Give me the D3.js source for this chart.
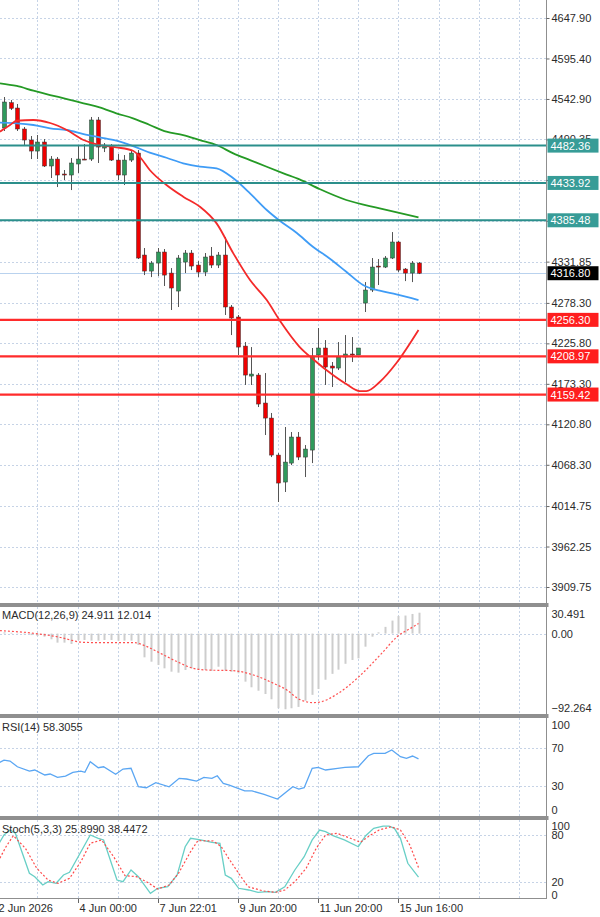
<!DOCTYPE html>
<html>
<head>
<meta charset="utf-8">
<script src="https://cdn.jsdelivr.net/npm/d3@7"></script>
<style>
 body { margin: 0; background: #fff; }
 svg { display: block; }
 text { font-family: "Liberation Sans", Arial, sans-serif; font-size: 11px; fill: #2b2b2b; }
</style>
</head>
<body>
<svg></svg>
<script>
// свечи H4, индекс 0..62
const opens = [4505.2,4538.0,4531.1,4503.9,4489.6,4475.3,4487.0,4455.9,4464.9,4445.5,4444.2,4458.5,4464.9,4464.9,4515.6,4479.2,4481.8,4463.6,4444.2,4463.6,
 4472.7,4340.4,4319.6,4330.0,4344.3,4317.0,4293.7,4331.3,4343.0,4327.4,4318.3,4339.1,4327.4,4340.4,4273.0,4260.0,4222.3,4183.4,4184.7,4148.4,
 4128.9,4080.9,4045.9,4070.5,4104.3,4078.3,4087.4,4210.7,4219.8,4196.4,4193.8,4208.1,4212.0,4210.7,4278.1,4295.0,4326.1,4324.8,4336.5,4357.3,
 4322.2,4317.0,4330.0];
const highs = [4545.4,4541.5,4536.3,4506.5,4494.8,4496.1,4490.9,4468.8,4467.5,4450.7,4466.2,4483.1,4484.4,4519.5,4519.5,4485.7,4484.4,4471.4,4470.1,4476.6,
 4476.6,4349.5,4332.6,4349.5,4348.2,4323.5,4340.4,4346.9,4346.9,4332.6,4343.0,4350.8,4344.3,4363.8,4275.6,4262.6,4227.5,4221.0,4187.3,4187.3,
 4135.5,4083.5,4117.3,4110.8,4110.8,4093.9,4219.8,4245.7,4230.1,4201.6,4227.5,4236.6,4234.0,4219.8,4305.3,4336.5,4335.2,4339.1,4370.2,4358.6,
 4323.5,4332.6,4331.3];
const lows = [4501.3,4528.5,4501.3,4481.8,4464.9,4464.9,4454.6,4440.3,4428.6,4437.7,4424.7,4446.8,4463.6,4462.4,4459.8,4474.0,4462.4,4437.7,4431.2,4461.1,
 4335.2,4314.4,4311.8,4313.1,4300.2,4269.1,4273.0,4317.0,4320.9,4311.8,4313.1,4323.5,4323.5,4262.6,4236.6,4210.7,4171.8,4171.8,4143.2,4106.9,
 4078.3,4020.0,4033.0,4067.9,4074.4,4052.4,4070.5,4204.2,4171.8,4169.2,4191.2,4175.7,4201.6,4210.7,4266.5,4292.4,4301.5,4323.5,4335.2,4318.3,
 4306.6,4305.3,4315.7];
const closes = [4538.9,4530.7,4503.9,4489.6,4475.3,4487.0,4455.9,4464.9,4444.2,4444.2,4459.8,4464.9,4464.3,4515.6,4480.5,4483.1,4463.6,4444.2,4463.6,4472.7,
 4336.5,4319.6,4330.0,4344.3,4314.4,4297.6,4336.5,4343.0,4326.1,4318.3,4337.8,4327.4,4340.4,4273.0,4258.7,4221.0,4184.7,4186.0,4147.1,4128.9,
 4080.9,4044.6,4071.8,4104.3,4078.3,4088.7,4209.4,4219.8,4195.1,4193.8,4208.1,4212.0,4211.3,4219.8,4295.0,4324.8,4324.8,4336.5,4357.3,4320.9,
 4317.0,4330.0,4316.8];

// скользящие средние: [индекс свечи, значение]
const maGreen = [[-0.6,4563.2],[1.9,4559.7],[4.4,4553.6],[6.9,4548.0],[9.4,4542.8],[11.9,4537.2],[14.3,4532.0],[16.8,4524.3],[19.3,4517.8],
 [21.8,4509.1],[24.3,4500.4],[26.8,4496.1],[29.3,4489.6],[31.8,4483.1],[34.3,4472.3],[36.8,4463.6],[39.3,4454.9],[41.8,4446.4],[44.2,4438.6],
 [47.2,4426.0],[51.2,4411.8],[56.2,4401.0],[62,4389.3]];
const maBlue = [[-0.6,4512.1],[1.9,4511.3],[4.4,4509.1],[6.9,4504.8],[9.4,4502.6],[11.9,4497.4],[14.3,4493.1],[16.8,4488.7],[19.3,4481.8],
 [21.8,4473.2],[24.3,4466.6],[26.8,4459.4],[29.3,4455.0],[31.8,4452.9],[34.3,4439.9],[36.8,4420.4],[39.3,4398.8],[41.3,4384.5],[43.8,4368.9],
 [46.2,4351.1],[48.7,4336.0],[51.2,4318.7],[53.7,4301.5],[56.2,4294.1],[58.7,4289.4],[62,4282.0]];
const maRed = [[-0.6,4500.4],[0.9,4509.1],[1.9,4514.6],[4.4,4515.6],[6.9,4511.7],[9.4,4502.6],[11.9,4489.6],[14.3,4483.1],[16.8,4480.1],
 [19.3,4475.7],[20.3,4467.9],[21.8,4450.7],[24.3,4431.2],[26.8,4416.1],[29.3,4403.1],[31.8,4381.5],[34.3,4342.6],[36.8,4307.9],[39.3,4282.0],
 [41.3,4254.8],[44.2,4221.4],[46.2,4205.5],[49.2,4184.7],[51.2,4173.0],[53.2,4163.9],[54.2,4163.9],[56.2,4175.7],[58.7,4200.3],[62,4243.1]];

// уровни
const levelsTeal = [4482.36, 4433.92, 4385.48];
const levelsRed = [4256.30, 4208.97, 4159.42];
const lastPrice = 4316.80;
const priceTicks = [4647.90,4595.40,4542.90,4490.35,4437.80,4384.80,4331.85,4278.30,4225.80,4173.30,4120.80,4068.30,4014.75,3962.25,3909.75];
// подписи, которые закрыты метками уровней
const hiddenTicks = [4437.80, 4384.80];

// ось времени
const timeLabels = ["2 Jun 2026","4 Jun 00:00","7 Jun 22:01","9 Jun 20:00","11 Jun 20:00","15 Jun 16:00"];
const timeLabelIdx = [-1, 11, 23, 35, 47, 59];
const gridIdx = [5, 11, 17, 23, 29, 35, 41, 47, 53, 59, 65, 71, 77];

// MACD
const macdHist = [1.5,1.0,0.3,-0.8,-1.8,-2.9,-3.7,-6.8,-10.8,-10.8,-12.4,-7.6,-7.6,-8.4,-8.4,-7.6,-7.6,-8.4,-8.4,-8.4,
 -13.6,-28.3,-33.5,-37.4,-41.4,-45.4,-46.6,-43.4,-41.4,-43.4,-43.4,-44.6,-39.5,-44.2,-45.4,-47.3,-57.3,-64.0,-68.1,-72.0,
 -78.3,-89.0,-90.2,-89.0,-87.4,-80.0,-73.0,-66.0,-55.0,-48.0,-43.0,-36.0,-31.5,-29.5,-15.6,-3.7,1.5,8.0,15.5,21.0,
 21.5,23.4,24.9];
const macdSignal = [[-0.6,3.5],[4.4,0.4],[7.9,-3.7],[11.9,-10.4],[14.4,-10.8],[19.4,-10.8],[21.4,-15.6],[23.4,-23.5],[25.9,-33.5],
 [28.3,-41.4],[30.3,-43.4],[34.3,-44.2],[37.3,-49.3],[40.3,-59.2],[42.3,-67.2],[43.9,-77.1],[46.2,-82.3],[47.3,-81.5],[49.6,-73.2],
 [53.1,-51.3],[56.5,-23.5],[58.8,-3.7],[61.4,9.0],[62,12.0]];
const macdTicks = [30.491, 0.00, -92.264];

// RSI(14)
const rsi = [[-0.9,53.7],[0,57.1],[0.9,56.1],[2,50.1],[3.8,45.6],[4.6,46.7],[6.1,41.5],[6.9,42.5],[8,39.0],[9.2,40.4],[10.3,44.3],
 [11.5,45.6],[12.1,44.3],[12.9,55.4],[14.1,49.1],[14.9,50.1],[16.7,42.2],[17.8,47.7],[19,48.5],[20.1,29.2],[21.3,28.2],[22.7,33.4],
 [24.7,29.2],[26.2,38.0],[27.3,37.3],[28.8,35.2],[29.9,39.0],[31.1,38.0],[31.9,40.7],[32.8,32.8],[33.7,31.0],[36,24.8],[37.1,24.8],
 [38.9,21.3],[40.9,16.4],[43.2,29.2],[44.1,26.8],[44.9,28.2],[46.1,48.5],[47,49.5],[48.1,46.7],[49.9,48.5],[51,49.5],[53,50.1],
 [54.5,61.6],[55.3,64.1],[57,64.1],[58,67.6],[59.3,60.6],[60.2,58.9],[61.1,61.3],[62,58.3]];

// Stoch(5,3,3)
const stochMain = [[-0.9,67.2],[0,80.1],[0.9,86.5],[1.7,82.3],[3.8,30.8],[4.6,26.5],[5.8,15.8],[6.6,20.1],[7.8,18.0],[8.9,28.7],[9.8,32.1],
 [12.9,80.1],[14.1,75.8],[14.9,73.7],[16.9,22.2],[17.8,20.1],[19,35.1],[20.1,26.5],[21.9,5.1],[23,11.6],[24.5,13.6],[25.9,28.7],
 [27.1,65.0],[27.9,75.8],[29.4,73.7],[31.1,70.7],[32.3,69.4],[33.1,28.7],[34,24.4],[35.1,11.6],[36.6,9.4],[38,6.4],[39.4,7.2],
 [40.6,6.4],[42,13.6],[43.5,35.1],[44.9,52.2],[46.1,73.7],[47.2,86.5],[48.1,84.3],[49.2,79.2],[50.9,73.7],[53,65.0],[54.1,79.2],
 [55.3,88.7],[56.7,91.6],[57.6,91.6],[58.4,88.7],[59.3,75.8],[60.4,43.7],[62,25.9]];
const stochSignal = [[-0.9,45.8],[0.3,65.0],[1.4,79.2],[3.2,63.0],[4.9,37.3],[6.6,22.2],[8.1,18.0],[9.8,24.4],[11.5,45.8],[12.9,69.4],
 [14.6,73.7],[16.4,52.2],[18.1,27.8],[19.8,26.5],[21.3,20.1],[23,10.7],[24.7,15.8],[26.1,30.8],[27.9,58.6],[29,72.8],[31.3,72.4],
 [32.5,65.0],[33.6,50.1],[35.1,30.8],[36.5,13.6],[38.8,8.1],[40.6,6.4],[42,9.4],[43.5,20.1],[45.2,37.3],[46.7,63.0],[48.1,80.1],
 [49.8,82.3],[51.6,76.6],[53.3,70.7],[54.7,79.2],[56.1,86.5],[57.9,90.7],[59.3,86.5],[60.7,67.2],[62,38.4]];

const width = 600, height = 917;
const axisX = 546.5;
const gridColor = "#c6d3e6";

let svg = d3.select("svg").attr("width", width).attr("height", height);

let x = d3.scaleLinear().domain([0, 62]).range([4, 418.5]);
let yPrice = d3.scaleLinear().domain([3909.75, 4647.90]).range([587, 18]);
let yMacd = d3.scaleLinear().domain([-92.264, 30.491]).range([711, 608]);
let yRsi = d3.scaleLinear().domain([0, 100]).range([814.7, 719]);
let yStoch = d3.scaleLinear().domain([0, 100]).range([897.3, 819.5]);

// панели: верх/низ
const panels = [
 {top: 0, bottom: 603},
 {top: 607, bottom: 714},
 {top: 718, bottom: 816},
 {top: 820, bottom: 898}
];

// вертикальная сетка
panels.forEach(p => {
 svg.append("g").selectAll("line").data(gridIdx).join("line")
  .attr("x1", d => Math.round(x(d)) + 0.5).attr("x2", d => Math.round(x(d)) + 0.5)
  .attr("y1", p.top).attr("y2", p.bottom)
  .attr("stroke", gridColor).attr("stroke-dasharray", "2,2");
});

// горизонтальная сетка
function hGrid(vals, y) {
 svg.append("g").selectAll("line").data(vals).join("line")
  .attr("x1", 0).attr("x2", axisX)
  .attr("y1", d => Math.round(y(d)) + 0.5).attr("y2", d => Math.round(y(d)) + 0.5)
  .attr("stroke", gridColor).attr("stroke-dasharray", "2,2");
}
hGrid(priceTicks, yPrice);
hGrid([0], yMacd);
hGrid([70, 30], yRsi);
hGrid([80, 20], yStoch);

// линия текущей цены
svg.append("line")
 .attr("x1", 0).attr("x2", axisX)
 .attr("y1", Math.round(yPrice(lastPrice)) + 0.5).attr("y2", Math.round(yPrice(lastPrice)) + 0.5)
 .attr("stroke", "#b9d2ee").attr("stroke-width", 1);

// свечи
const candles = d3.range(opens.length).map(i => ({i, o: opens[i], h: highs[i], l: lows[i], c: closes[i]}));
let cg = svg.append("g");
cg.selectAll("line").data(candles).join("line")
 .attr("x1", d => Math.round(x(d.i)) + 0.5).attr("x2", d => Math.round(x(d.i)) + 0.5)
 .attr("y1", d => yPrice(d.h)).attr("y2", d => yPrice(d.l))
 .attr("stroke", "#555").attr("stroke-width", 1);
cg.selectAll("rect").data(candles).join("rect")
 .attr("x", d => Math.round(x(d.i)) - 1.5)
 .attr("width", 4)
 .attr("y", d => yPrice(Math.max(d.o, d.c)))
 .attr("height", d => Math.max(1, Math.abs(yPrice(d.o) - yPrice(d.c))))
 .attr("fill", d => d.c >= d.o ? "#2f9a5c" : "#ee0000")
 .attr("stroke", "#333").attr("stroke-width", 0.5);

// средние
let priceLine = d3.line().x(d => x(d[0])).y(d => yPrice(d[1])).curve(d3.curveMonotoneX);
svg.append("path").attr("d", priceLine(maGreen)).attr("fill", "none").attr("stroke", "#259a25").attr("stroke-width", 1.8);
svg.append("path").attr("d", priceLine(maBlue)).attr("fill", "none").attr("stroke", "#3f9cf6").attr("stroke-width", 1.8);
svg.append("path").attr("d", priceLine(maRed)).attr("fill", "none").attr("stroke", "#f42a2a").attr("stroke-width", 1.8);

// горизонтальные уровни
svg.append("g").selectAll("line").data(levelsTeal).join("line")
 .attr("x1", 0).attr("x2", axisX)
 .attr("y1", d => yPrice(d)).attr("y2", d => yPrice(d))
 .attr("stroke", "#2b8f8b").attr("stroke-width", 2);
svg.append("g").selectAll("line").data(levelsRed).join("line")
 .attr("x1", 0).attr("x2", axisX)
 .attr("y1", d => yPrice(d)).attr("y2", d => yPrice(d))
 .attr("stroke", "#ff2b2b").attr("stroke-width", 2.2);

// MACD
svg.append("g").selectAll("line").data(macdHist).join("line")
 .attr("x1", (d, i) => Math.round(x(i)) + 0.5).attr("x2", (d, i) => Math.round(x(i)) + 0.5)
 .attr("y1", yMacd(0)).attr("y2", d => yMacd(d))
 .attr("stroke", "#cdcdcd").attr("stroke-width", 2);
let macdLine = d3.line().x(d => x(d[0])).y(d => yMacd(d[1])).curve(d3.curveMonotoneX);
svg.append("path").attr("d", macdLine(macdSignal)).attr("fill", "none")
 .attr("stroke", "#ff5050").attr("stroke-width", 1.2).attr("stroke-dasharray", "2,2");

// RSI
let rsiLine = d3.line().x(d => x(d[0])).y(d => yRsi(d[1]));
svg.append("path").attr("d", rsiLine(rsi)).attr("fill", "none").attr("stroke", "#5aa6f3").attr("stroke-width", 1.3);

// Stoch
let stLine = d3.line().x(d => x(d[0])).y(d => yStoch(d[1]));
svg.append("path").attr("d", stLine(stochMain)).attr("fill", "none").attr("stroke", "#68cfc6").attr("stroke-width", 1.3);
svg.append("path").attr("d", stLine(stochSignal)).attr("fill", "none")
 .attr("stroke", "#ff4a4a").attr("stroke-width", 1.2).attr("stroke-dasharray", "2,2");

// белый фон под шкалой
svg.append("rect").attr("x", axisX).attr("y", 0).attr("width", width - axisX).attr("height", height).attr("fill", "#fff");
svg.append("rect").attr("x", 0).attr("y", 898).attr("width", width).attr("height", height - 898).attr("fill", "#fff");

// разделители панелей
[603, 714, 816].forEach(y => {
 svg.append("rect").attr("x", 0).attr("y", y).attr("width", axisX + 2).attr("height", 4).attr("fill", "#8f8f8f");
});
svg.append("line").attr("x1", 0).attr("x2", axisX).attr("y1", 898.5).attr("y2", 898.5).attr("stroke", "#8f8f8f");
svg.append("line").attr("x1", axisX).attr("x2", axisX).attr("y1", 0).attr("y2", 899).attr("stroke", "#8f8f8f");

// ценовая шкала
let priceAxis = d3.axisRight(yPrice).tickValues(priceTicks)
 .tickFormat(d => hiddenTicks.includes(d) ? "" : d3.format(".2f")(d))
 .tickSize(3).tickPadding(2);
let pa = svg.append("g").attr("transform", `translate(${axisX},0)`).call(priceAxis);
pa.select(".domain").remove();
pa.selectAll("line").attr("stroke", "#666");
pa.selectAll("text").attr("fill", "#2b2b2b").style("font-size", "11px").attr("font-family", null);

// метки уровней
function levelLabel(v, bg) {
 let yy = yPrice(v);
 svg.append("rect").attr("x", axisX + 1).attr("y", yy - 7).attr("width", 51).attr("height", 14).attr("fill", bg);
 svg.append("text").attr("x", axisX + 4).attr("y", yy + 4).text(v.toFixed(2)).style("fill", "#fff");
}
levelsTeal.forEach(v => levelLabel(v, "#379c97"));
levelsRed.forEach(v => levelLabel(v, "#ff1e1e"));
levelLabel(lastPrice, "#000");

// шкалы индикаторов
function sideLabels(vals, y, fmt, shift) {
 svg.append("g").selectAll("text").data(vals).join("text")
  .attr("x", axisX + 5)
  .attr("y", (d, i) => y(d) + 4 + (shift[i] || 0))
  .text(fmt);
}
sideLabels(macdTicks, yMacd, d => d === 0 ? "0.00" : d3.format(".3f")(d), [6, 0, -3]);
sideLabels([100, 70, 30, 0], yRsi, d => d, [6, 0, 0, -5]);
sideLabels([100, 80, 20, 0], yStoch, d => d, [6, 0, 0, -2]);

// подписи индикаторов
svg.append("text").attr("x", 2).attr("y", 619).text("MACD(12,26,9) 24.911 12.014");
svg.append("text").attr("x", 2).attr("y", 731).text("RSI(14) 58.3055");
svg.append("text").attr("x", 2).attr("y", 833).text("Stoch(5,3,3) 25.8990 38.4472");

// ось времени
timeLabelIdx.forEach((idx, k) => {
 let xx = Math.round(x(idx)) + 0.5;
 svg.append("line").attr("x1", xx).attr("x2", xx).attr("y1", 899).attr("y2", 903).attr("stroke", "#666");
 svg.append("text").attr("x", xx + 1).attr("y", 912).text(timeLabels[k]);
});
</script>
</body>
</html>
